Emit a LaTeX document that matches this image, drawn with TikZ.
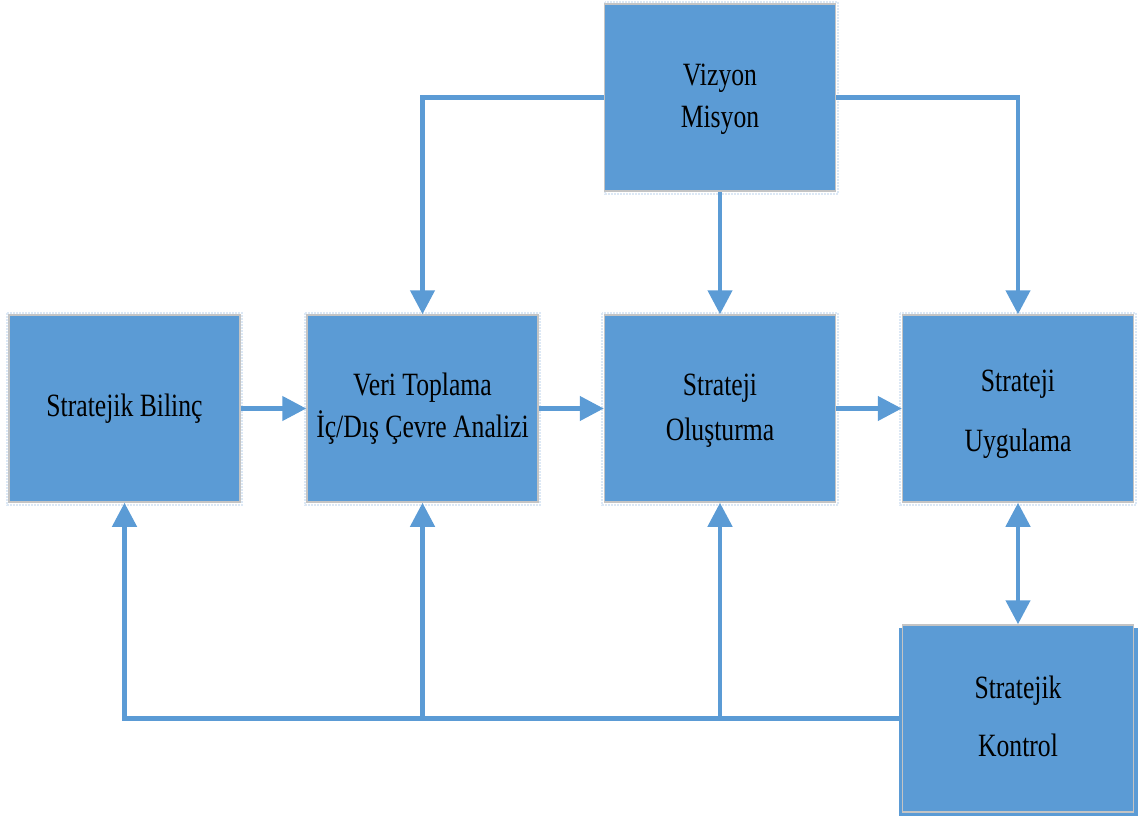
\documentclass[tikz,border=0pt]{standalone}
\usepackage{fontspec}
\setmainfont{Liberation Serif}[FakeStretch=0.79]
\usetikzlibrary{arrows.meta}
\definecolor{boxblue}{HTML}{5B9BD5}
\definecolor{boxedge}{HTML}{C4C4C4}
\definecolor{dotblue}{HTML}{DCE8F5}
\tikzset{
  blk/.style={rectangle, fill=boxblue, draw=boxedge, line width=1.5pt,
    minimum width=231pt, minimum height=187pt, inner sep=0pt},
  txt/.style={align=center, inner sep=0pt, font=\fontsize{32.5}{42}\selectfont, text=black},
  arr/.style={draw=boxblue, line width=4.5pt, -{Triangle[width=24pt,length=24pt]}},
  darr/.style={draw=boxblue, line width=4.5pt, {Triangle[width=24pt,length=24pt]}-{Triangle[width=24pt,length=24pt]}},
  halo/.style={draw=dotblue, line width=2pt, densely dotted}
}
\begin{document}
\begin{tikzpicture}[x=1pt,y=-1pt]
\useasboundingbox (0,0) rectangle (1139,821);
% faint dotted halos
\draw[halo] (605,2) rectangle (838,194);
\draw[halo] (7,313) rectangle (242,505);
\draw[halo] (305,313) rectangle (540,505);
\draw[halo] (602,313) rectangle (838,505);
\draw[halo] (900,313) rectangle (1136,505);
% shadow of control box
\fill[boxblue] (899,628) rectangle (1138,816);
% boxes
\node[blk] (viz) at (720,97.5) {};
\node[blk] (bil) at (124.5,408.5) {};
\node[blk] (veri) at (422.5,408.5) {};
\node[blk] (olus) at (720,408.5) {};
\node[blk] (uyg) at (1018,408.5) {};
\node[blk] (kon) at (1018,718.5) {};
% texts
\node[txt] (vizt) at ([yshift=-2pt]viz.center) {Vizyon\\Misyon};
\node[txt] (bilt) at (bil.center) {Stratejik Bilinç};
\node[txt] (verit) at (veri.center) {Veri Toplama\\İç/Dış Çevre Analizi};
\node[txt] (olust) at ([yshift=-2.5pt]olus.center) {Strateji\\[3pt]Oluşturma};
\node[txt] (uygt) at ([yshift=-5.5pt]uyg.center) {Strateji\\[18pt]Uygulama};
\node[txt] (kont) at ([yshift=2pt]kon.center) {Stratejik\\[16pt]Kontrol};
% top connectors
\draw[arr] (viz.west) -| (veri.north);
\draw[arr] (viz.south) -- (olus.north);
\draw[arr] (viz.east) -| (uyg.north);
% main flow
\draw[arr] (bil.east) -- (veri.west);
\draw[arr] (veri.east) -- (olus.west);
\draw[arr] (olus.east) -- (uyg.west);
\draw[darr] (uyg.south) -- (kon.north);
% feedback
\draw[arr] (kon.west) -| (bil.south);
\coordinate (fv) at (kon.west -| veri.south);
\coordinate (fo) at (kon.west -| olus.south);
\draw[arr] (fv) -- (veri.south);
\draw[arr] (fo) -- (olus.south);
\end{tikzpicture}
\end{document}
